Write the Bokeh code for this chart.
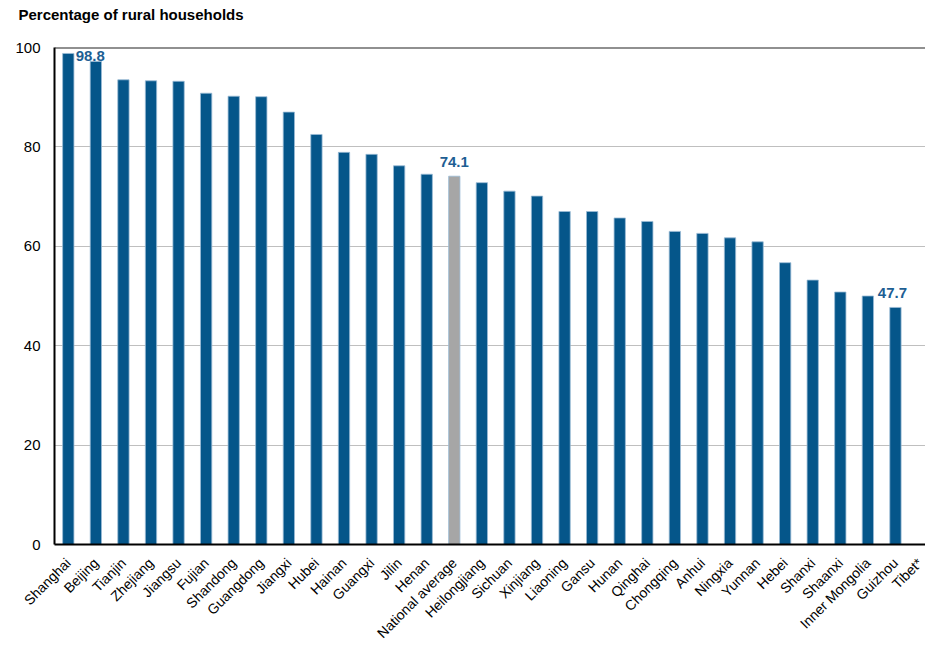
import math
from bokeh.plotting import figure
from bokeh.models import ColumnDataSource, Range1d, FixedTicker, Span, LabelSet, Title
from bokeh.core.properties import value
from bokeh.embed import file_html
from bokeh.resources import INLINE

# ---- data ----
categories = ["Shanghai", "Beijing", "Tianjin", "Zhejiang", "Jiangsu", "Fujian",
              "Shandong", "Guangdong", "Jiangxi", "Hubei", "Hainan", "Guangxi",
              "Jilin", "Henan", "National average", "Heilongjiang", "Sichuan",
              "Xinjiang", "Liaoning", "Gansu", "Hunan", "Qinghai", "Chongqing",
              "Anhui", "Ningxia", "Yunnan", "Hebei", "Shanxi", "Shaanxi",
              "Inner Mongolia", "Guizhou", "Tibet*"]
values = [98.8, 97.2, 93.5, 93.3, 93.2, 90.8, 90.2, 90.1, 87.0, 82.5, 78.9, 78.5,
          76.2, 74.5, 74.1, 72.8, 71.1, 70.1, 67.0, 67.0, 65.7, 65.0, 63.0, 62.6,
          61.7, 60.9, 56.7, 53.2, 50.8, 50.0, 47.7, float("nan")]
y_ticks = [0, 20, 40, 60, 80, 100]
labelled = ["Shanghai", "National average", "Guizhou"]
label_dx = [22, 0, -3]
label_dy = [-8, 9, 9]
title_text = "Percentage of rural households"

BLUE = "#05568A"
GREY = "#A6A6A6"
LABEL_BLUE = "#1D5E93"

idx = list(range(len(categories)))
colors = [GREY if c == "National average" else BLUE for c in categories]
src = ColumnDataSource(dict(x=idx, top=values, color=colors))

p = figure(width=925, height=649, output_backend="svg", toolbar_location=None,
           x_range=Range1d(-0.5, 31.09), y_range=Range1d(0, 100),
           min_border_left=54, min_border_right=0, min_border_top=47,
           min_border_bottom=96)
p.outline_line_color = None
p.background_fill_color = "white"
p.border_fill_color = "white"

p.vbar(x="x", top="top", width=0.41, bottom=0, source=src,
       fill_color="color", line_color="#9BBBD6", line_width=0.8)

# top border line
p.add_layout(Span(location=100, dimension="width", line_color="#222222", line_width=2))

# labels
li = [categories.index(c) for c in labelled]
lsrc = ColumnDataSource(dict(x=li, y=[values[i] for i in li],
                             text=["%.1f" % values[i] for i in li],
                             dx=label_dx, dy=label_dy))
p.add_layout(LabelSet(x="x", y="y", text="text", source=lsrc, x_offset="dx",
                      y_offset="dy", text_align="center", text_baseline="alphabetic",
                      text_font=value("Liberation Sans"), text_font_style="bold",
                      text_font_size="15px", text_color=LABEL_BLUE))

# axes
p.yaxis.ticker = FixedTicker(ticks=y_ticks)
p.yaxis.major_tick_line_color = None
p.yaxis.minor_tick_line_color = None
p.yaxis.axis_line_color = "black"
p.yaxis.axis_line_width = 2
p.yaxis.major_label_standoff = 8
p.yaxis.major_label_text_font = "Liberation Sans"
p.yaxis.major_label_text_font_size = "15px"
p.yaxis.major_label_text_color = "black"

p.xaxis.ticker = FixedTicker(ticks=idx)
p.xaxis.major_label_overrides = {i: c for i, c in enumerate(categories)}
p.xaxis.major_label_orientation = math.pi / 4
p.xaxis.major_tick_line_color = None
p.xaxis.minor_tick_line_color = None
p.xaxis.axis_line_color = "black"
p.xaxis.axis_line_width = 2
p.xaxis.major_label_standoff = 10
p.xaxis.major_label_text_font = "Liberation Sans"
p.xaxis.major_label_text_font_size = "14px"
p.xaxis.major_label_text_color = "black"

p.xgrid.grid_line_color = None
p.ygrid.ticker = FixedTicker(ticks=y_ticks)
p.ygrid.grid_line_color = "#BFBFBF"
p.ygrid.grid_line_width = 1

# spacer above the frame to lift the title
p.add_layout(Title(text=" ", text_font_size="6px", standoff=14), "above")

p.title.text = title_text
p.title.text_font = "Liberation Sans"
p.title.text_font_style = "bold"
p.title.text_font_size = "15px"
p.title.text_color = "black"
p.title.align = "left"
p.title.offset = -36
p.title.standoff = 6

open("out.html", "w").write(file_html(p, INLINE))
